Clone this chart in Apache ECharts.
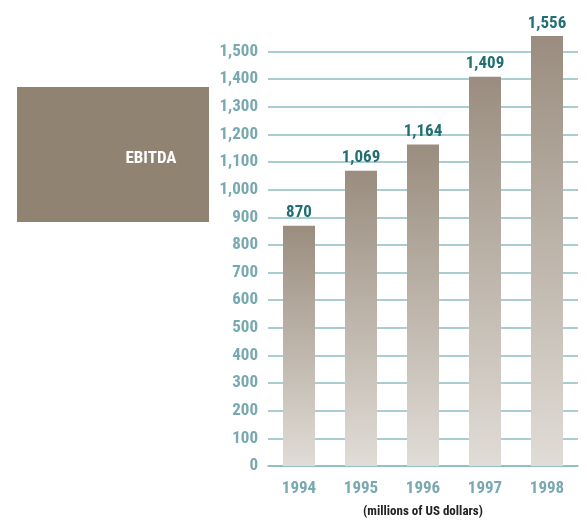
<!DOCTYPE html>
<html><head><meta charset="utf-8">
<script src="https://cdn.jsdelivr.net/npm/echarts@6/dist/echarts.min.js"></script>
<style>html,body{margin:0;padding:0;background:#fff}#c{width:587px;height:521px}</style>
</head><body><div id="c"></div>
<script>
const years = ['1994','1995','1996','1997','1998'];
const ebitda = [870, 1069, 1164, 1409, 1556];
const title = 'EBITDA';
const unitNote = '(millions of US dollars)';
const FONT = '"Roboto Condensed","Open Sans Condensed",sans-serif';
const chart = echarts.init(document.getElementById('c'));
chart.setOption({
  animation: false,
  grid: {left: 268, right: 9, top: 35, bottom: 55, containLabel: false},
  xAxis: {
    type: 'category', data: years,
    axisLine: {show: true, lineStyle: {color: '#8dbcc1', width: 1.5}},
    axisTick: {show: false},
    axisLabel: {color: '#78a9b1', fontFamily: FONT, fontWeight: 'bold', fontSize: 17, margin: 14}
  },
  yAxis: {
    type: 'value', min: 0, max: 1560, interval: 100,
    axisLine: {show: false}, axisTick: {show: false},
    axisLabel: {color: '#78a9b1', fontFamily: FONT, fontWeight: 'bold', fontSize: 17, margin: 10,
      showMaxLabel: false, formatter: v => v.toLocaleString('en-US')},
    splitLine: {show: true, showMaxLine: false, lineStyle: {color: '#8dbcc1', width: 1.5}}
  },
  series: [{
    type: 'bar', data: ebitda, barWidth: 32,
    itemStyle: {color: {type: 'linear', x: 0, y: 0, x2: 0, y2: 1,
      colorStops: [{offset: 0, color: '#9a8d7f'}, {offset: 1, color: '#e0dcd6'}]}},
    label: {show: true, position: 'top', distance: 4, color: '#216f72', fontFamily: FONT,
      fontWeight: 'bold', fontSize: 17, formatter: p => p.value.toLocaleString('en-US')}
  }],
  graphic: [
    {type: 'rect', shape: {x: 17, y: 87, width: 192, height: 135}, style: {fill: '#918372'}},
    {type: 'text', x: 151, y: 159, style: {text: title, fill: '#fff', font: 'bold 17px ' + FONT,
      textAlign: 'center', textVerticalAlign: 'middle'}},
    {type: 'text', x: 423, y: 512, style: {text: unitNote, fill: '#222', font: 'bold 13px ' + FONT,
      textAlign: 'center', textVerticalAlign: 'middle'}}
  ]
});
</script></body></html>
